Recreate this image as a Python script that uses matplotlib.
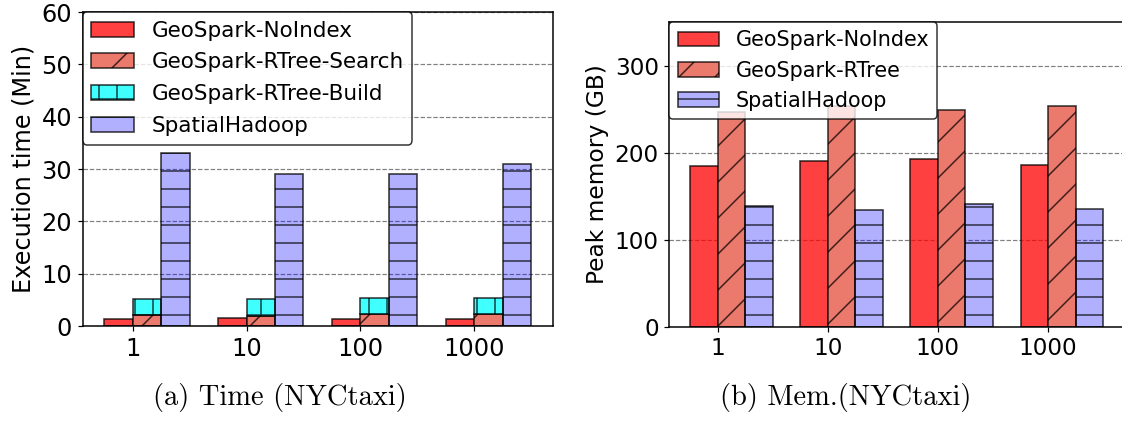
import os
import matplotlib
matplotlib.use("Agg")
import matplotlib.pyplot as plt
from matplotlib.font_manager import FontProperties
import numpy as np

# Data
datasets = ["1", "10", "100", "1000"]

time_labels = ["GeoSpark-NoIndex", "GeoSpark-RTree-Search",
               "GeoSpark-RTree-Build", "SpatialHadoop"]
time_noindex = [1.4, 1.6, 1.4, 1.4]
time_rtree_search = [2.1, 2.0, 2.2, 2.2]
time_rtree_build = [3.1, 3.1, 3.2, 3.2]
time_spatialhadoop = [33, 29, 29, 31]

mem_labels = ["GeoSpark-NoIndex", "GeoSpark-RTree", "SpatialHadoop"]
mem_noindex = [185, 190, 193, 186]
mem_rtree = [247, 253, 249, 253]
mem_spatialhadoop = [139, 134, 141, 135]

captions = ["(a) Time (NYCtaxi)", "(b) Mem.(NYCtaxi)"]

plt.rcParams["hatch.linewidth"] = 1.0

# Computer Modern for the sub-figure captions
cm_path = os.path.join(matplotlib.get_data_path(), "fonts", "ttf", "cmr10.ttf")
cm_font = FontProperties(fname=cm_path, size=19)

DPI = 108
fig = plt.figure(figsize=(1122 / DPI, 423 / DPI), dpi=DPI)

EDGE = (0, 0, 0, 0.75)
RED = (1.0, 0.0, 0.0, 0.75)
SALMON = "#ec7a6c"
CYAN = (0.0, 1.0, 1.0, 0.75)
BLUE = (0.0, 0.0, 1.0, 0.31)
W = 0.25
LW = 1.1

x = np.arange(len(datasets))


def style_axes(ax, fs):
    ax.set_axisbelow(True)
    ax.yaxis.grid(True, linestyle="--", color="gray", linewidth=0.8)
    ax.set_xticks(x)
    ax.set_xticklabels(datasets)
    ax.tick_params(labelsize=fs)
    for s in ax.spines.values():
        s.set_color("black")
        s.set_linewidth(1.0)


# (a) execution time
ax1 = fig.add_axes([0.0737, 0.2293, 0.4189, 0.7423])
ax1.bar(x, time_noindex, width=-W, align="edge", facecolor=RED,
        edgecolor=EDGE, linewidth=LW, label=time_labels[0])
ax1.bar(x, time_rtree_search, width=W, align="edge", facecolor=SALMON,
        edgecolor=EDGE, linewidth=LW, hatch="/", label=time_labels[1])
ax1.bar(x, time_rtree_build, width=W, align="edge", bottom=time_rtree_search,
        facecolor=CYAN, edgecolor=EDGE, linewidth=LW, hatch="+",
        label=time_labels[2])
ax1.bar(x + W, time_spatialhadoop, width=W, align="edge", facecolor=BLUE,
        edgecolor=EDGE, linewidth=LW, hatch="-", label=time_labels[3])
ax1.set_ylim(0, 60)
ax1.set_yticks(range(0, 61, 10))
ax1.set_xlim(-0.44, 3.69)
ax1.set_ylabel("Execution time (Min)", fontsize=16)
style_axes(ax1, 16)
ax1.legend(loc="upper left", bbox_to_anchor=(0, 1), borderaxespad=0,
           fontsize=14.3, labelspacing=0.55, edgecolor="black", framealpha=0.8)

# (b) peak memory
ax2 = fig.add_axes([0.5965, 0.2277, 0.4053, 0.7203])
ax2.bar(x, mem_noindex, width=-W, align="edge", facecolor=RED,
        edgecolor=EDGE, linewidth=LW, label=mem_labels[0])
ax2.bar(x, mem_rtree, width=W, align="edge", facecolor=SALMON,
        edgecolor=EDGE, linewidth=LW, hatch="/", label=mem_labels[1])
ax2.bar(x + W, mem_spatialhadoop, width=W, align="edge", facecolor=BLUE,
        edgecolor=EDGE, linewidth=LW, hatch="-", label=mem_labels[2])
ax2.set_ylim(0, 350)
ax2.set_yticks([0, 100, 200, 300])
ax2.set_xlim(-0.44, 3.69)
ax2.set_ylabel("Peak memory (GB)", fontsize=15.6)
style_axes(ax2, 15.4)
ax2.legend(loc="upper left", bbox_to_anchor=(0, 1), borderaxespad=0,
           fontsize=13.8, labelspacing=0.5, edgecolor="black", framealpha=0.8)

fig.text(280 / 1122, 1 - 398 / 423, captions[0], fontproperties=cm_font,
         ha="center", va="center")
fig.text(846 / 1122, 1 - 398 / 423, captions[1], fontproperties=cm_font,
         ha="center", va="center")

fig.savefig("out.png", dpi=DPI)
